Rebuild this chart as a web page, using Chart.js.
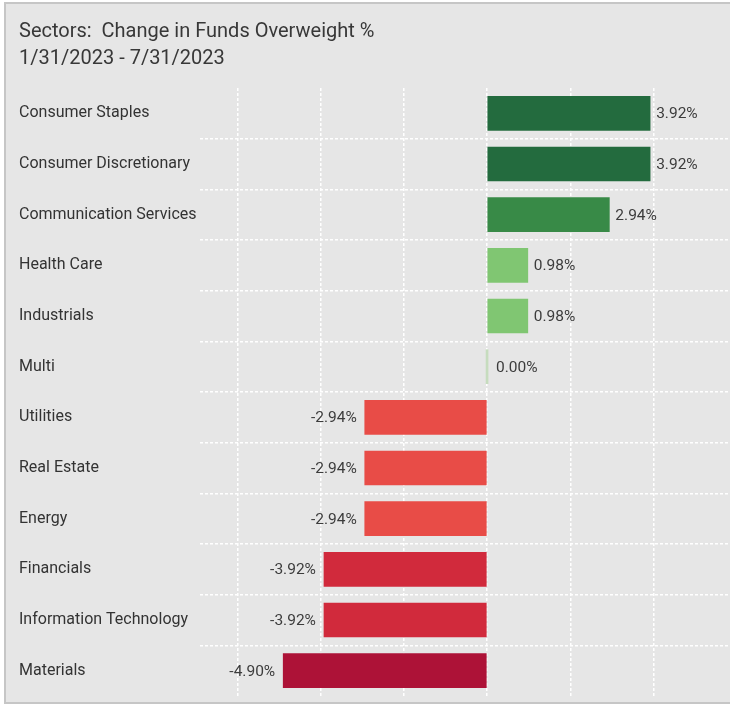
<!DOCTYPE html>
<html>
<head>
<meta charset="utf-8">
<script src="https://cdn.jsdelivr.net/npm/chart.js@4.4.1/dist/chart.umd.min.js"></script>
<style>
  html, body { margin: 0; padding: 0; background: #fff; }
  #wrap { position: absolute; left: 0; top: 0; width: 730px; height: 708px; }
</style>
</head>
<body>
<div id="wrap"><canvas id="sectorChart" width="730" height="708"></canvas></div>
<script>
const sectors = [
  "Consumer Staples",
  "Consumer Discretionary",
  "Communication Services",
  "Health Care",
  "Industrials",
  "Multi",
  "Utilities",
  "Real Estate",
  "Energy",
  "Financials",
  "Information Technology",
  "Materials",
];
const changePct = [3.92, 3.92, 2.94, 0.98, 0.98, 0.0, -2.94, -2.94, -2.94, -3.92, -3.92, -4.9];
const barColors = [
  "#236b3e", "#236b3e", "#388a47", "#80c672", "#80c672", "#c6dcbe",
  "#e84c47", "#e84c47", "#e84c47", "#d12a3c", "#d12a3c", "#ad1237",
];

// Fond gris + cadre
const frame = {
  id: "frame",
  beforeDraw(chart) {
    const c = chart.ctx;
    c.save();
    c.fillStyle = "#ffffff";
    c.fillRect(0, 0, chart.width, chart.height);
    c.fillStyle = "#e6e6e6";
    c.fillRect(4, 2, chart.width - 4, 702);
    c.strokeStyle = "#c6c6c6";
    c.lineWidth = 2;
    c.beginPath();
    c.moveTo(chart.width, 3);
    c.lineTo(5, 3);
    c.lineTo(5, 703);
    c.lineTo(chart.width, 703);
    c.stroke();
    c.restore();
  },
};

// Etiquettes de valeur au bout des barres
const valueLabels = {
  id: "valueLabels",
  afterDatasetsDraw(chart) {
    const c = chart.ctx;
    const meta = chart.getDatasetMeta(0);
    c.save();
    c.font = "15.5px Roboto";
    c.fillStyle = "#3c3c3c";
    c.textBaseline = "middle";
    meta.data.forEach((bar, i) => {
      const v = changePct[i];
      const txt = v.toFixed(2) + "%";
      if (v < 0) {
        c.textAlign = "right";
        c.fillText(txt, bar.x - 8, bar.y + 1);
      } else {
        c.textAlign = "left";
        c.fillText(txt, Math.max(bar.x, bar.base + 2) + 6, bar.y + 1);
      }
    });
    c.restore();
  },
};

const ctx = document.getElementById("sectorChart").getContext("2d");
new Chart(ctx, {
  type: "bar",
  data: {
    labels: sectors,
    datasets: [
      {
        data: changePct,
        backgroundColor: barColors,
        borderWidth: 0,
        barThickness: 34,
        minBarLength: 2,
      },
    ],
  },
  plugins: [frame, valueLabels],
  options: {
    indexAxis: "y",
    responsive: false,
    animation: false,
    layout: { padding: { left: 19, right: 0, top: 0, bottom: 12 } },
    plugins: {
      legend: { display: false },
      tooltip: { enabled: false },
      title: {
        display: true,
        text: "Sectors:  Change in Funds Overweight %",
        align: "start",
        color: "#383838",
        font: { family: "Roboto", size: 20, weight: "normal" },
        padding: { top: 20, bottom: 3 },
      },
      subtitle: {
        display: true,
        text: "1/31/2023 - 7/31/2023",
        align: "start",
        color: "#383838",
        font: { family: "Roboto", size: 20, weight: "normal" },
        padding: { top: 0, bottom: 17 },
      },
    },
    scales: {
      x: {
        min: -6.9,
        max: 5.84,
        ticks: { display: false, stepSize: 2, includeBounds: false },
        grid: { color: "#ffffff", lineWidth: 1.5, drawTicks: false },
        border: { display: false, dash: [3, 2] },
      },
      y: {
        offset: true,
        ticks: {
          crossAlign: "far",
          color: "#333333",
          font: { family: "Roboto", size: 16 },
          padding: 0,
        },
        grid: {
          offset: true,
          drawTicks: false,
          lineWidth: 1.5,
          color: (c) =>
            c.type !== "tick" || c.index === 0 || c.index >= sectors.length ? "transparent" : "#ffffff",
        },
        border: { display: false, dash: [3, 2] },
        afterFit(scale) {
          scale.width = 181;
        },
      },
    },
  },
});
</script>
</body>
</html>
